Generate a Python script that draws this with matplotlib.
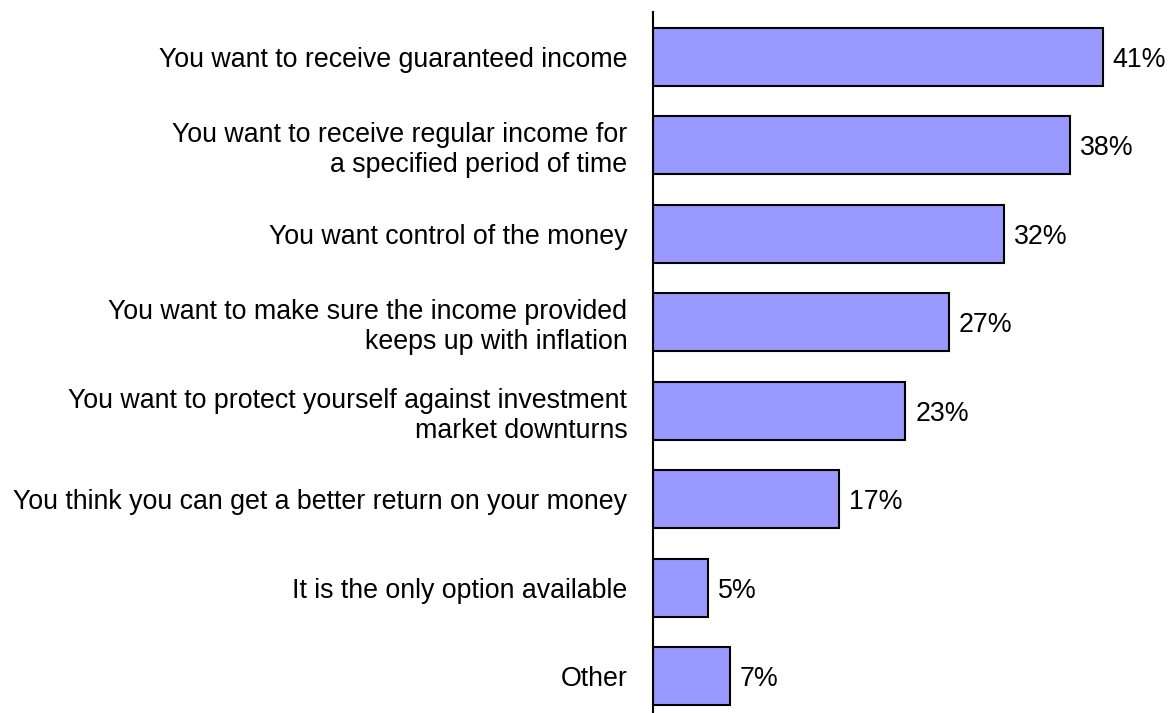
import matplotlib
matplotlib.use("Agg")
import matplotlib.pyplot as plt

categories = [
    "You want to receive guaranteed income",
    "You want to receive regular income for\na specified period of time",
    "You want control of the money",
    "You want to make sure the income provided\nkeeps up with inflation",
    "You want to protect yourself against investment\nmarket downturns",
    "You think you can get a better return on your money",
    "It is the only option available",
    "Other",
]
values = [41, 38, 32, 27, 23, 17, 5, 7]
value_labels = [f"{v}%" for v in values]

plt.rcParams["font.family"] = ["Liberation Sans", "DejaVu Sans"]

fig = plt.figure(figsize=(11.68, 7.13), dpi=100)
ax = fig.add_axes([653 / 1168, 0.0, 1 - 653 / 1168, 1 - 12 / 713])

pos = list(range(len(categories)))
ax.barh(pos, values, height=0.656, color="#9999FF", edgecolor="black", linewidth=1.5)

for p, v, lab in zip(pos, values, value_labels):
    ax.text(v + 0.9, p, lab, va="center_baseline", ha="left", fontsize=19.3)

ax.set_yticks(pos)
ax.set_yticklabels(categories, fontsize=19.3, linespacing=1.2)
ax.tick_params(axis="y", length=0, pad=18.5)
ax.set_xticks([])

ax.set_xlim(0, 515 / 10.97)
ax.set_ylim(7.418, -0.509)

for s in ["top", "right", "bottom"]:
    ax.spines[s].set_visible(False)
ax.spines["left"].set_linewidth(1.5)

fig.savefig("out.png", dpi=100)
